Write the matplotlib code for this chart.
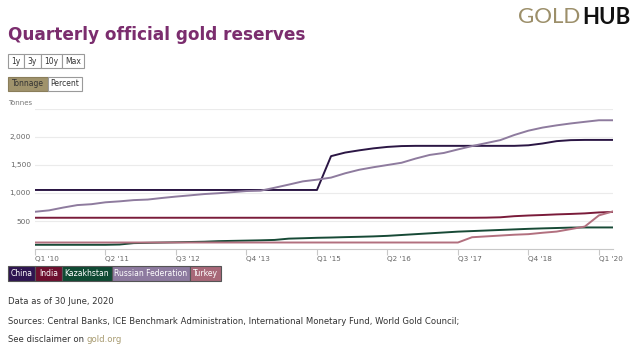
import matplotlib.pyplot as plt
from matplotlib.patches import Rectangle

# данные: кварталы с Q1'10 по Q2'20 (42 точки), тонны
quarters = [f"Q{q} '{y:02d}" for y in range(10, 21) for q in range(1, 5)][:42]

china = [1054] * 21 + [1658, 1722, 1762, 1797, 1823, 1838, 1842, 1842, 1842, 1842,
                       1842, 1842, 1842, 1842, 1852, 1884, 1926, 1944, 1948, 1948, 1948]
india = [558] * 30 + [558, 558, 560, 566, 586, 598, 607, 618, 626, 636, 653, 662]
kazakhstan = [75, 75, 75, 75, 75, 75, 80, 105, 110, 115, 120, 125, 130, 140, 145, 150,
              155, 162, 185, 192, 200, 205, 212, 218, 225, 235, 250, 265, 280, 295,
              310, 320, 330, 340, 350, 360, 368, 375, 382, 385, 385, 385]
russia = [665, 690, 740, 784, 800, 834, 851, 873, 883, 911, 936, 958, 981, 996, 1015,
          1035, 1041, 1094, 1150, 1208, 1238, 1275, 1352, 1415, 1460, 1500, 1540, 1615,
          1680, 1715, 1778, 1838, 1891, 1944, 2036, 2113, 2168, 2208, 2242, 2271, 2299, 2299]
turkey = [116] * 31 + [210, 225, 240, 255, 265, 290, 311, 355, 401, 600, 672]

names = ['China', 'India', 'Kazakhstan', 'Russian Federation', 'Turkey']
series = [china, india, kazakhstan, russia, turkey]
colors = ['#2b1644', '#7a1b3a', '#174a36', '#8e7b9e', '#b2707f']
legend_colors = ['#2e1450', '#6e0f2e', '#0f4a33', '#8d7a9f', '#a86878']

yticks = [500, 1000, 1500, 2000]
tick_idx = list(range(0, 42, 5))

W, H = 640, 353
fig = plt.figure(figsize=(W / 100, H / 100), dpi=100)


def fx(px):  # пиксели -> координаты фигуры
    return px / W


def fy(py):
    return 1 - py / H


def box(x0, y0, x1, y1, face='white', edge='#9a9a9a'):
    fig.add_artist(Rectangle((fx(x0), fy(y1)), fx(x1) - fx(x0), fy(y0) - fy(y1),
                             transform=fig.transFigure, facecolor=face,
                             edgecolor=edge, linewidth=0.8))


ax = fig.add_axes([fx(35), fy(249), fx(613) - fx(35), fy(109) - fy(249)])
for s, c in zip(series, colors):
    ax.plot(range(len(s)), s, color=c, linewidth=1.4, solid_capstyle='round')

ax.set_xlim(0, 41)
ax.set_ylim(0, 2500)
ax.set_yticks([500, 1000, 1500, 2000, 2500])
ax.set_yticklabels([f'{v:,}' for v in yticks] + [''])
ax.grid(axis='y', color='#ebebeb', linewidth=0.8)
ax.set_axisbelow(True)
for sp in ['top', 'right', 'left']:
    ax.spines[sp].set_visible(False)
ax.spines['bottom'].set_color('#c8c8c8')
ax.tick_params(axis='y', length=0, labelsize=5.3, labelcolor='#666666', pad=3)
ax.set_xticks(tick_idx)
ax.set_xticklabels([quarters[i] for i in tick_idx], ha='left')
ax.tick_params(axis='x', length=4, color='#c8c8c8', labelsize=5.2,
               labelcolor='#666666', pad=1)

# заголовок и логотип
fig.text(fx(8), fy(35), 'Quarterly official gold reserves', fontsize=12.2,
         fontweight='bold', color='#7b2d6e', va='center', ha='left')
h = fig.text(fx(630), fy(17), 'HUB', fontsize=16, color='#111111', va='center',
             ha='right', family='Lato', fontweight='bold')
fig.canvas.draw()
hx = h.get_window_extent().x0
fig.text(hx / W - 0.002, fy(17), 'GOLD', fontsize=16, color='#9c8f6a', va='center',
         ha='right', family='Lato')

# кнопки
btn = [('1y', 8, 24), ('3y', 24, 41), ('10y', 41, 62), ('Max', 62, 84)]
for t, a, b in btn:
    box(a, 54, b, 68)
    fig.text(fx((a + b) / 2), fy(61), t, fontsize=5.5, color='#333333',
             ha='center', va='center')
box(8, 77, 48, 91, face='#a0936c', edge='#8a7e5a')
fig.text(fx(28), fy(84), 'Tonnage', fontsize=5.5, color='#333333', ha='center', va='center')
box(48, 77, 82, 91)
fig.text(fx(65), fy(84), 'Percent', fontsize=5.5, color='#333333', ha='center', va='center')

fig.text(fx(8), fy(103), 'Tonnes', fontsize=5, color='#777777', ha='left', va='center')

# легенда
widths = [27, 27, 50, 78, 31]
x = 8
for n, c, w in zip(names, legend_colors, widths):
    box(x, 266, x + w, 281, face=c, edge='#555555')
    fig.text(fx(x + w / 2), fy(273.5), n, fontsize=5.5, color='white',
             ha='center', va='center')
    x += w

# подписи внизу
fs = 6.1
fig.text(fx(8), fy(302), 'Data as of 30 June, 2020', fontsize=fs,
         color='#333333', ha='left', va='center')
fig.text(fx(8), fy(321), 'Sources: Central Banks, ICE Benchmark Administration, '
         'International Monetary Fund, World Gold Council;', fontsize=fs,
         color='#333333', ha='left', va='center')
t = fig.text(fx(8), fy(339), 'See disclaimer on ', fontsize=fs,
             color='#333333', ha='left', va='center')
fig.canvas.draw()
bb = t.get_window_extent()
fig.text(bb.x1 / W, fy(339), 'gold.org', fontsize=fs, color='#a89b70',
         ha='left', va='center')

fig.savefig('out.png', dpi=100)
